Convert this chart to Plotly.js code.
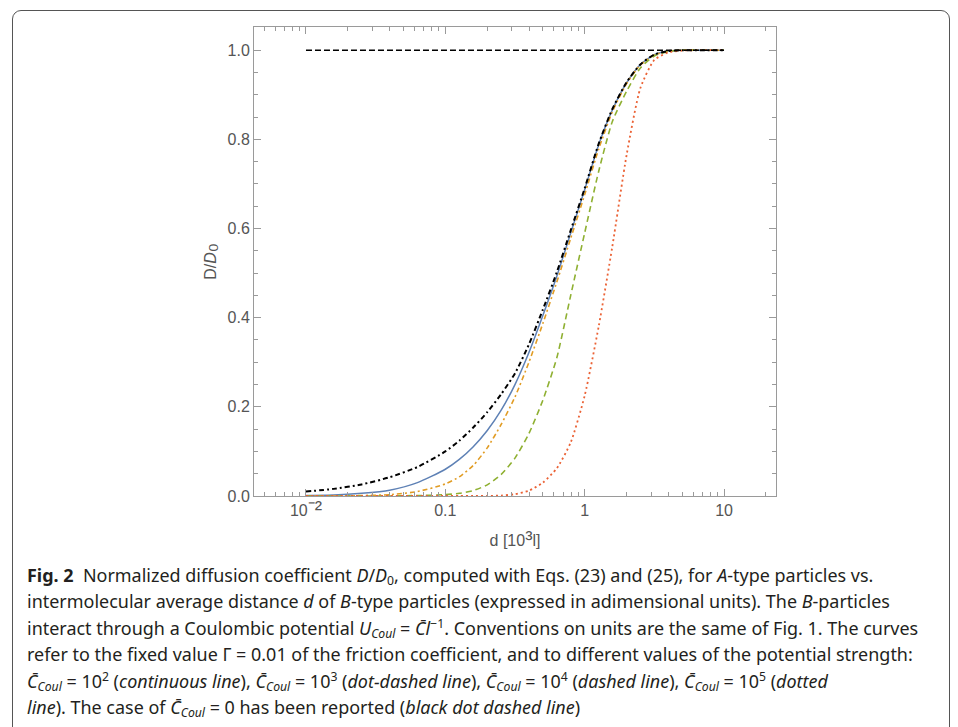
<!DOCTYPE html>
<html><head><meta charset="utf-8">
<script src="https://cdn.plot.ly/plotly-3.0.1.min.js"></script>
<style>
html,body{margin:0;padding:0;background:#fff;width:958px;height:727px;overflow:hidden;}
#frame{position:absolute;left:12px;top:10px;width:938px;height:760px;border:1.5px solid #555;border-radius:9px;box-sizing:border-box;}
#chart{position:absolute;left:0;top:0;width:958px;height:727px;}
.cap{position:absolute;left:27px;white-space:nowrap;font-family:"Noto Sans",sans-serif;font-size:18px;line-height:26px;height:26px;color:#231f20;transform-origin:0 50%;}
.cap sub,.cap sup{font-size:68%;line-height:1;}
.cap sub{vertical-align:-0.25em;}
.cap sup{vertical-align:0.55em;}
</style></head><body>
<div id="frame"></div>
<div id="chart"></div>
<div class="cap" style="top:562px"><b>Fig. 2</b>&nbsp; Normalized diffusion coefficient <i>D</i>/<i>D</i><sub>0</sub>, computed with Eqs. (23) and (25), for <i>A</i>-type particles vs.</div>
<div class="cap" style="top:588px">intermolecular average distance <i>d</i> of <i>B</i>-type particles (expressed in adimensional units). The <i>B</i>-particles</div>
<div class="cap" style="top:615px">interact through a Coulombic potential <i>U</i><sub><i>Coul</i></sub> = <i>C̄l</i><sup>−1</sup>. Conventions on units are the same of Fig. 1. The curves</div>
<div class="cap" style="top:641px">refer to the fixed value Γ = 0.01 of the friction coefficient, and to different values of the potential strength:</div>
<div class="cap" style="top:668px"><i>C̄</i><sub><i>Coul</i></sub> = 10<sup>2</sup> (<i>continuous line</i>), <i>C̄</i><sub><i>Coul</i></sub> = 10<sup>3</sup> (<i>dot-dashed line</i>), <i>C̄</i><sub><i>Coul</i></sub> = 10<sup>4</sup> (<i>dashed line</i>), <i>C̄</i><sub><i>Coul</i></sub> = 10<sup>5</sup> (<i>dotted</i></div>
<div class="cap" style="top:694px"><i>line</i>). The case of <i>C̄</i><sub><i>Coul</i></sub> = 0 has been reported (<i>black dot dashed line</i>)</div>
<script>
// distance d [10^3 l]
const dValues = [0.01, 0.0158, 0.0251, 0.0398, 0.0631, 0.1, 0.126, 0.158, 0.2, 0.251, 0.316, 0.398, 0.501, 0.631, 0.794, 1, 1.26, 1.58, 2, 2.51, 3.16, 3.98, 5.01, 6.31, 10];
// D/D0 series
const c0   = [0.010, 0.016, 0.026, 0.042, 0.065, 0.100, 0.124, 0.153, 0.188, 0.228, 0.275, 0.340, 0.418, 0.502, 0.596, 0.690, 0.790, 0.868, 0.928, 0.968, 0.990, 0.998, 1.0, 1.0, 1.0];
const c1e2 = [0.001, 0.002, 0.006, 0.013, 0.030, 0.060, 0.082, 0.110, 0.147, 0.192, 0.250, 0.322, 0.405, 0.493, 0.590, 0.687, 0.788, 0.866, 0.927, 0.968, 0.990, 0.998, 1.0, 1.0, 1.0];
const c1e3 = [0.000, 0.000, 0.001, 0.003, 0.010, 0.027, 0.043, 0.068, 0.108, 0.160, 0.222, 0.300, 0.387, 0.480, 0.578, 0.676, 0.778, 0.862, 0.925, 0.967, 0.989, 0.998, 1.0, 1.0, 1.0];
const c1e4 = [0.000, 0.000, 0.000, 0.000, 0.001, 0.003, 0.006, 0.012, 0.025, 0.048, 0.085, 0.140, 0.215, 0.310, 0.450, 0.590, 0.728, 0.840, 0.908, 0.960, 0.987, 0.997, 1.0, 1.0, 1.0];
const c1e5 = [0.000, 0.000, 0.000, 0.000, 0.000, 0.000, 0.000, 0.000, 0.000, 0.001, 0.004, 0.012, 0.030, 0.062, 0.120, 0.225, 0.380, 0.560, 0.765, 0.915, 0.978, 0.995, 0.999, 1.0, 1.0];
const limitX = [0.01, 10];
const limitY = [1.0, 1.0];
// ticks
const xTickVals = [0.01, 0.1, 1, 10];
const xTickText = ['10<span style="font-size:22px">⁻²</span>', '0.1', '1', '10'];
const xMinorVals = [0.005,0.006,0.007,0.008,0.009,0.02,0.03,0.04,0.05,0.06,0.07,0.08,0.09,0.2,0.3,0.4,0.5,0.6,0.7,0.8,0.9,2,3,4,5,6,7,8,9,20];
const yTickVals = [0, 0.2, 0.4, 0.6, 0.8, 1.0];
const yTickText = ['0.0', '0.2', '0.4', '0.6', '0.8', '1.0'];
const yMinorVals = [0.05,0.1,0.15,0.25,0.3,0.35,0.45,0.5,0.55,0.65,0.7,0.75,0.85,0.9,0.95,1.05];

const mk = (y, color, dash, width) => ({x: dValues, y: y, type: 'scatter', mode: 'lines',
  line: {color: color, dash: dash, width: width, shape: 'spline', smoothing: 0.6}, hoverinfo: 'skip'});

const traces = [
  mk(c1e2, '#5E81B5', 'solid', 1.5),
  mk(c1e3, '#E19C24', '5px,3px,2px,3px', 1.6),
  mk(c1e4, '#8FB032', '6px,4px', 1.6),
  mk(c1e5, '#EB6235', '2px,3px', 1.8),
  mk(c0, '#000000', '5px,3px,2px,3px', 2),
  {x: limitX, y: limitY, type: 'scatter', mode: 'lines', line: {color: '#000', dash: '6px,3px', width: 1.5}, hoverinfo: 'skip'}
];

const axFont = {family: 'Liberation Sans, Arial, sans-serif', size: 16, color: '#555'};
const layout = {
  width: 958, height: 727,
  margin: {l: 254, r: 182, t: 27, b: 231},
  paper_bgcolor: 'rgba(0,0,0,0)', plot_bgcolor: '#fff',
  showlegend: false,
  xaxis: {type: 'log', range: [-2.373, 1.373], showline: true, mirror: 'ticks', linecolor: '#9a9a9a', linewidth: 1,
    ticks: 'inside', ticklen: 7, tickcolor: '#9a9a9a', tickvals: xTickVals, ticktext: xTickText,
    tickfont: axFont, showgrid: false, zeroline: false,
    minor: {tickmode: 'array', tickvals: xMinorVals, ticks: 'inside', ticklen: 4, tickcolor: '#9a9a9a', showgrid: false},
    title: {text: 'd [10<span style="font-size:22px">³</span>l]', font: axFont, standoff: 14}},
  yaxis: {range: [0, 1.052], showline: true, mirror: 'ticks', linecolor: '#9a9a9a', linewidth: 1,
    ticks: 'inside', ticklen: 7, tickcolor: '#9a9a9a', tickvals: yTickVals, ticktext: yTickText,
    tickfont: axFont, showgrid: false, zeroline: false,
    minor: {tickmode: 'array', tickvals: yMinorVals, ticks: 'inside', ticklen: 4, tickcolor: '#9a9a9a', showgrid: false},
    title: {text: 'D/<i>D</i><span style="font-size:22px">₀</span>', font: axFont, standoff: 6}}
};

Plotly.newPlot('chart', traces, layout, {staticPlot: true, displayModeBar: false});

// condense the caption lines so their lengths match the reference
const capTargets = [760, 818, 918, 911, 892, 543];
function fitCaption(){
  const lines = document.querySelectorAll('.cap');
  let sum = 0;
  lines.forEach((el, i) => { el.style.transform = 'none'; sum += capTargets[i] / el.getBoundingClientRect().width; });
  const s = sum / lines.length;
  lines.forEach(el => { el.style.transform = 'scaleX(' + s.toFixed(4) + ')'; });
}
fitCaption();
if (document.fonts && document.fonts.ready) document.fonts.ready.then(fitCaption);
</script>
</body></html>
